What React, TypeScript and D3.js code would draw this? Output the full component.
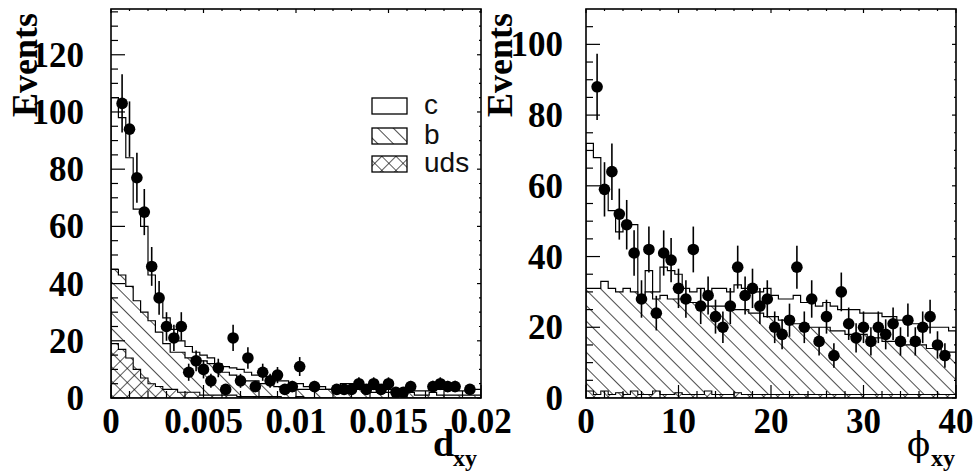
import React, { useRef, useEffect } from 'react'
import * as d3 from 'd3'

// d_xy panel, 50 bins over 0..0.02
const dxyData = [0, 103, 94, 77, 65, 46, 35, 25, 21, 25, 9, 13, 10, 6, 10.5, 3, 21, 6, 14, 4, 9, 6, 8, 3, 4, 11, 0, 4, 0, 0, 3, 3, 3, 5, 3, 5, 3, 5, 2, 2, 4, 0, 0, 4, 5, 4, 4, 0, 3, 0];
const dxyTotal = [105, 98, 84, 66, 60, 43, 35, 28, 24, 20, 18, 16, 15, 14, 12, 11, 10.5, 10, 9, 8, 8, 7, 6, 6, 5, 5, 4, 4, 4, 3, 3, 5, 5, 4, 4, 3, 3, 3, 3, 2.5, 2.5, 2.5, 2.5, 3, 3, 3, 3, 2.5, 3, 3];
const dxyB = [45, 43, 39, 34, 30, 27, 23, 19, 16, 16, 14, 14, 13, 12, 10, 9, 8, 7, 6, 6, 5, 5, 4, 4, 4, 3, 3, 3, 3, 3, 3, 2, 2, 3, 2, 2, 2, 2, 2, 2, 2, 1, 1, 2, 1, 1, 1, 1, 1, 1];
const dxyUds = [19, 17, 14, 10, 7, 5, 4, 3, 3, 2, 2, 2, 1, 1, 1, 1, 1, 0.5, 0.5, 0.5, 0.5, 0.5, 0.5, 0, 0, 0.5, 0, 0, 0, 0, 0, 0, 0, 0, 0, 0, 0, 0, 0, 0, 0, 0, 0, 0, 0, 0, 0, 0, 0, 0];

// phi_xy panel, 50 bins over 0..40
const phiData = [0, 88, 59, 64, 52, 49, 41, 28, 42, 24, 41, 39, 31, 28, 42, 26, 29, 23, 20, 26, 37, 29, 31, 26, 28, 20, 18, 22, 37, 20, 28, 16, 23, 12, 30, 21, 17, 20, 16, 20, 18, 21, 16, 22, 16, 20, 23, 15, 12, 0];
const phiTotal = [72, 68, 59, 53, 47, 49, 49, 29, 36, 30, 37, 36, 35, 31, 30, 31, 29, 31, 31, 30, 32, 31, 31, 30, 31, 29, 28, 28, 29, 27, 27, 26, 27, 26, 25, 25, 25, 24, 24, 24, 23, 23, 22, 22, 21, 21, 20, 20, 20, 19];
const phiB = [31, 31, 33, 31, 30, 31, 30, 29, 30, 28, 29, 28, 28, 27, 27, 27, 26, 26, 26, 25, 25, 25, 24, 24, 23, 23, 22, 22, 21, 21, 20, 20, 20, 19, 19, 18, 18, 18, 17, 17, 16, 16, 16, 15, 15, 15, 14, 14, 13, 13];
const phiUds = [2, 1, 2, 1, 1.5, 1, 2, 1, 1, 2, 1, 1, 1.5, 1, 1, 1, 2, 1, 1, 1, 1.5, 1, 1, 1, 1, 1, 1, 1, 1, 1, 1, 1, 1, 1, 1, 1, 1, 1, 1, 1, 1, 1, 1, 1, 1, 1, 1, 1, 1, 1];

const dxyTicks = [0, 0.005, 0.01, 0.015, 0.02];
const dxyTickLabels = ['0', '0.005', '0.01', '0.015', '0.02'];
const phiTicks = [0, 10, 20, 30, 40];
const dxyYTicks = [0, 20, 40, 60, 80, 100, 120];
const phiYTicks = [0, 20, 40, 60, 80, 100];
const legendLabels = ['c', 'b', 'uds'];

const W = 977;
const H = 473;
const frameTop = 9;
const frameBottom = 398;
const serif = '"Liberation Serif", "Times New Roman", serif';

const drawPanel = (svg, cfg) => {
    const xScale = d3.scaleLinear().domain(cfg.xDomain).range([cfg.x0, cfg.x1]);
    const yScale = d3.scaleLinear().domain([0, cfg.yMax]).range([frameBottom, frameTop]);
    const n = cfg.data.length;
    const bw = (cfg.xDomain[1] - cfg.xDomain[0]) / n;
    const edges = d3.range(n + 1).map(i => cfg.xDomain[0] + i * bw);
    const steps = vals => edges.map((e, i) => [e, vals[Math.min(i, n - 1)]]);

    svg.append('clipPath').attr('id', cfg.id + 'clip')
        .append('rect')
        .attr('x', cfg.x0).attr('y', frameTop)
        .attr('width', cfg.x1 - cfg.x0).attr('height', frameBottom - frameTop);
    const g = svg.append('g').attr('clip-path', `url(#${cfg.id}clip)`);

    const area = d3.area()
        .x(d => xScale(d[0]))
        .y0(yScale(0))
        .y1(d => yScale(d[1]))
        .curve(d3.curveStepAfter);

    // c (total)
    g.append('path').datum(steps(cfg.total)).attr('d', area)
        .attr('fill', 'white').attr('stroke', '#000').attr('stroke-width', 1.2);
    // b
    g.append('path').datum(steps(cfg.bStack)).attr('d', area).attr('fill', 'white');
    g.append('path').datum(steps(cfg.bStack)).attr('d', area)
        .attr('fill', 'url(#hatchB)').attr('stroke', '#000').attr('stroke-width', 1.2);
    // uds
    g.append('path').datum(steps(cfg.uds)).attr('d', area).attr('fill', 'white');
    g.append('path').datum(steps(cfg.uds)).attr('d', area)
        .attr('fill', 'url(#hatchX)').attr('stroke', '#000').attr('stroke-width', 1.1);

    // data points
    const pts = cfg.data.map((v, i) => ({ x: edges[i] + bw / 2, v })).filter(d => d.v > 0);
    svg.append('g').selectAll('line').data(pts).enter().append('line')
        .attr('x1', d => xScale(d.x)).attr('x2', d => xScale(d.x))
        .attr('y1', d => yScale(d.v - Math.sqrt(d.v)))
        .attr('y2', d => yScale(Math.min(d.v + Math.sqrt(d.v), cfg.yMax)))
        .attr('stroke', '#000').attr('stroke-width', 1.6);
    svg.append('g').selectAll('circle').data(pts).enter().append('circle')
        .attr('cx', d => xScale(d.x)).attr('cy', d => yScale(d.v))
        .attr('r', 5.8).attr('fill', '#000');

    // frame
    svg.append('rect')
        .attr('x', cfg.x0).attr('y', frameTop)
        .attr('width', cfg.x1 - cfg.x0).attr('height', frameBottom - frameTop)
        .attr('fill', 'none').attr('stroke', '#000').attr('stroke-width', 1.6);

    const ticks = svg.append('g').attr('stroke', '#000').attr('stroke-width', 1.2);
    const yMinors = d3.range(0, cfg.yMax, cfg.yMinor);
    yMinors.forEach(t => {
        const major = cfg.yTicks.includes(t);
        const y = yScale(t);
        ticks.append('line').attr('x1', cfg.x0).attr('x2', cfg.x0 + (major ? 14 : 7)).attr('y1', y).attr('y2', y);
        ticks.append('line').attr('x1', cfg.x1).attr('x2', cfg.x1 - (major ? 4 : 2)).attr('y1', y).attr('y2', y);
    });
    const xMinors = d3.range(cfg.xDomain[0], cfg.xDomain[1] + bw / 10, cfg.xMinor);
    xMinors.forEach(t => {
        const major = cfg.xTicks.some(m => Math.abs(m - t) < bw / 10);
        const x = xScale(t);
        ticks.append('line').attr('x1', x).attr('x2', x).attr('y1', frameBottom).attr('y2', frameBottom - (major ? 13 : 7));
        ticks.append('line').attr('x1', x).attr('x2', x).attr('y1', frameTop).attr('y2', frameTop + (major ? 4 : 2));
    });

    // tick labels
    svg.append('g').selectAll('text').data(cfg.yTicks).enter().append('text')
        .attr('x', cfg.yLabelX).attr('y', d => yScale(d) + 12)
        .attr('text-anchor', 'end')
        .style('font-family', serif).style('font-weight', 'bold').style('font-size', '35px')
        .text(d => String(d));
    svg.append('g').selectAll('text').data(cfg.xTicks).enter().append('text')
        .attr('x', d => xScale(d)).attr('y', 433)
        .attr('text-anchor', 'middle')
        .style('font-family', serif).style('font-weight', 'bold').style('font-size', '35px')
        .text((d, i) => cfg.xLabels[i]);

    // axis titles
    svg.append('text')
        .attr('transform', `translate(${cfg.eventsX},117) rotate(-90)`)
        .style('font-family', serif).style('font-weight', 'bold').style('font-size', '36px')
        .text('Events');
    const xt = svg.append('g');
    xt.append('text').attr('x', cfg.titleX).attr('y', 456)
        .style('font-family', cfg.titleFont).style('font-weight', cfg.titleWeight).style('font-size', cfg.titleSize)
        .text(cfg.title);
    xt.append('text').attr('x', cfg.titleX + cfg.subDx).attr('y', 466)
        .style('font-family', serif).style('font-weight', 'bold').style('font-size', '24px')
        .text('xy');
};

export default function App() {
    const visEl = useRef(null);

    useEffect(() => {
        const root = d3.select(visEl.current);
        root.selectAll('*').remove();
        const svg = root.append('svg')
            .attr('width', W).attr('height', H)
            .style('position', 'absolute').style('left', '0px').style('top', '0px')
            .style('background', 'white');

        const defs = svg.append('defs');
        const hb = defs.append('pattern').attr('id', 'hatchB')
            .attr('patternUnits', 'userSpaceOnUse').attr('width', 11).attr('height', 11)
            .attr('patternTransform', 'rotate(-45)');
        hb.append('line').attr('x1', 0).attr('y1', 0).attr('x2', 0).attr('y2', 11)
            .attr('stroke', '#000').attr('stroke-width', 1.4);
        const hx = defs.append('pattern').attr('id', 'hatchX')
            .attr('patternUnits', 'userSpaceOnUse').attr('width', 10).attr('height', 10)
            .attr('patternTransform', 'rotate(45)');
        hx.append('line').attr('x1', 0).attr('y1', 0).attr('x2', 0).attr('y2', 10)
            .attr('stroke', '#000').attr('stroke-width', 1.3);
        hx.append('line').attr('x1', 0).attr('y1', 0).attr('x2', 10).attr('y2', 0)
            .attr('stroke', '#000').attr('stroke-width', 1.3);

        drawPanel(svg, {
            id: 'dxy', x0: 111, x1: 481, xDomain: [0, 0.02], yMax: 136,
            data: dxyData, total: dxyTotal, bStack: dxyB, uds: dxyUds,
            xTicks: dxyTicks, xLabels: dxyTickLabels, xMinor: 0.001,
            yTicks: dxyYTicks, yMinor: 5, yLabelX: 84, eventsX: 37,
            title: 'd', titleX: 433, titleWeight: 'bold', titleFont: serif,
            titleSize: '38px', subDx: 20,
        });
        drawPanel(svg, {
            id: 'phi', x0: 586, x1: 956, xDomain: [0, 40], yMax: 110,
            data: phiData, total: phiTotal, bStack: phiB, uds: phiUds,
            xTicks: phiTicks, xLabels: phiTicks.map(String), xMinor: 2,
            yTicks: phiYTicks, yMinor: 5, yLabelX: 563, eventsX: 512,
            title: 'ϕ', titleX: 907, titleWeight: 'normal',
            titleFont: '"DejaVu Serif", "Liberation Serif", serif',
            titleSize: '34px', subDx: 24,
        });

        // legend
        const fills = ['white', 'url(#hatchB)', 'url(#hatchX)'];
        const rowY = [98, 128, 156];
        const lg = svg.append('g');
        legendLabels.forEach((lab, i) => {
            lg.append('rect').attr('x', 372).attr('y', rowY[i]).attr('width', 35).attr('height', 16)
                .attr('fill', 'white');
            lg.append('rect').attr('x', 372).attr('y', rowY[i]).attr('width', 35).attr('height', 16)
                .attr('fill', fills[i]).attr('stroke', '#000').attr('stroke-width', 1.3);
            lg.append('text').attr('x', 424).attr('y', rowY[i] + 16)
                .style('font-family', '"Liberation Sans", Arial, sans-serif').style('font-size', '28px')
                .style('fill', '#111')
                .text(lab);
        });
    }, []);

    return (
        <div>
            <div ref={visEl}></div>
        </div>
    );
}
